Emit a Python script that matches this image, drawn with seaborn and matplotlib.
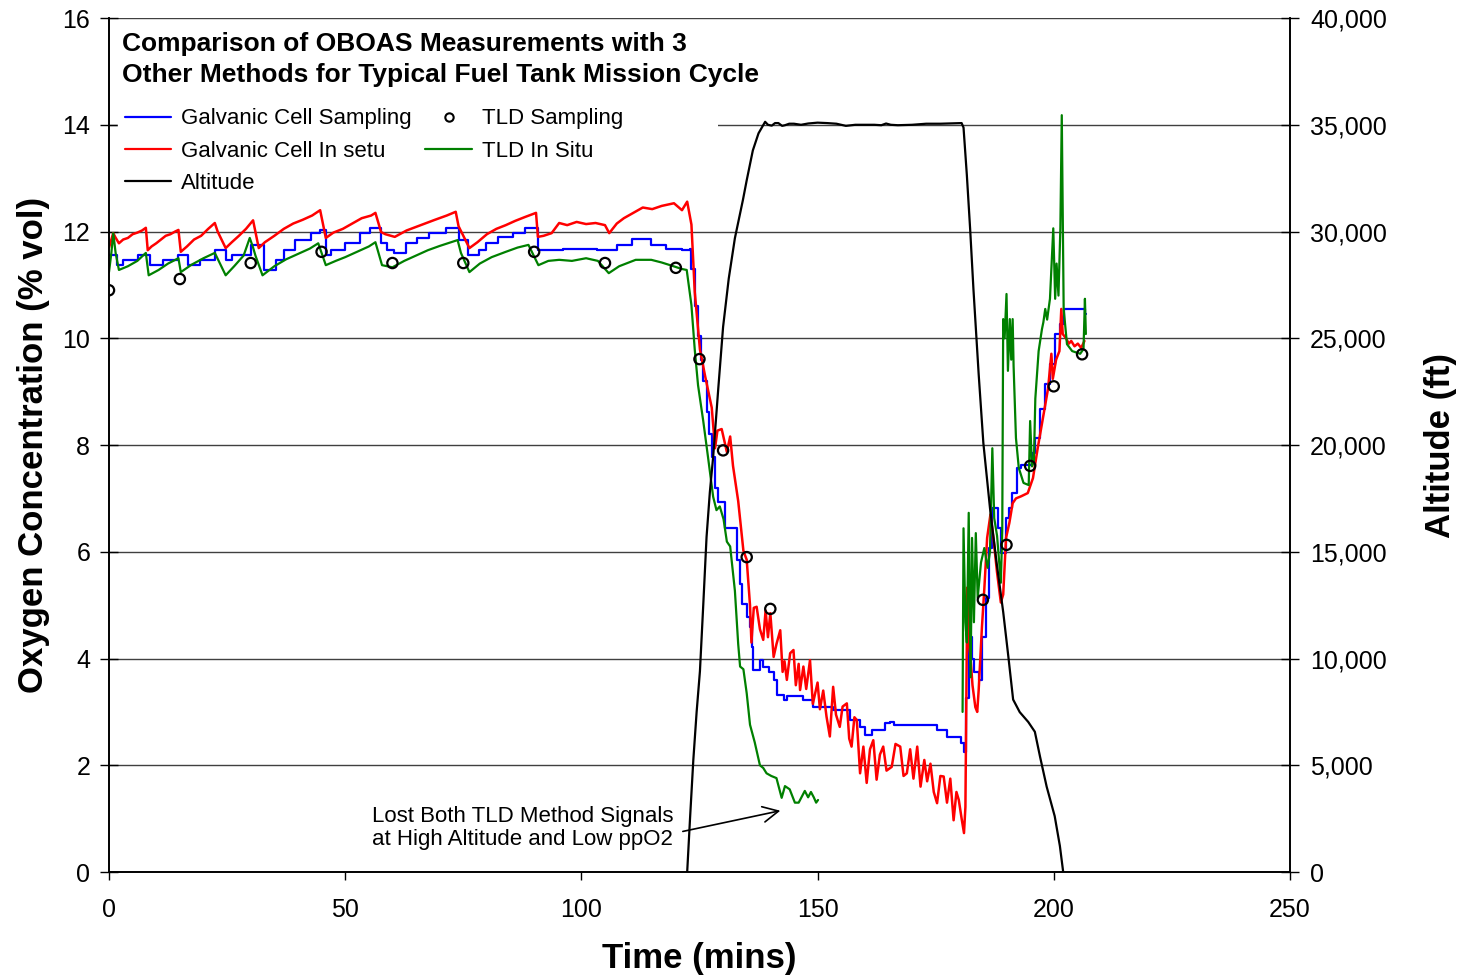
import numpy as np
import pandas as pd
import matplotlib
matplotlib.use("Agg")
import matplotlib.pyplot as plt
from matplotlib.lines import Line2D
from matplotlib.patches import Rectangle
from matplotlib.ticker import FuncFormatter, MultipleLocator
import seaborn as sns

# Galvanic cell in situ ("In setu") - red
gc_insitu_t = [0.0, 0.5, 0.9, 1.3, 2.1, 3.0, 4.0, 5.0, 6.0, 7.0, 7.8, 8.2, 9.0, 10.0, 11.0, 12.0, 13.0, 14.0,
               14.7, 15.2, 16.5, 18.0, 19.5, 21.0, 22.4, 23.0, 24.7, 26.0, 27.5, 29.0, 30.5, 31.7, 33.0, 35.0,
               37.0, 39.0, 41.0, 43.0, 44.7, 45.9, 47.5, 49.5, 51.5, 53.5, 55.5, 56.4, 57.6, 58.5, 60.5, 63.0,
               66.0, 69.0, 71.5, 73.4, 74.0, 76.3, 78.0, 80.0, 82.0, 84.0, 86.0, 88.0, 90.4, 90.8, 92.0, 93.7,
               95.3, 97.0, 99.0, 101.0, 103.0, 105.0, 105.9, 107.5, 109.0, 111.0, 113.0, 115.0, 117.0, 119.6,
               121.3, 122.4, 123.3, 124.0, 125.1, 126.2, 127.6, 128.3, 128.8, 129.7, 130.8, 131.5, 132.1, 133.2,
               134.3, 135.0, 135.7, 136.0, 136.5, 137.1, 137.8, 138.5, 139.0, 139.5, 140.0, 140.7, 141.3, 142.1,
               142.6, 143.0, 143.5, 144.2, 144.9, 145.4, 146.0, 146.3, 147.0, 147.6, 148.4, 149.0, 149.5, 150.0,
               150.5, 151.2, 151.9, 152.6, 153.3, 153.9, 154.7, 155.3, 156.2, 156.7, 157.2, 157.8, 158.3, 159.0,
               159.7, 160.4, 161.1, 161.8, 162.5, 163.2, 163.9, 164.6, 165.7, 166.5, 167.5, 168.2, 168.9, 169.6,
               170.3, 171.1, 171.8, 172.6, 173.2, 173.9, 174.6, 175.3, 176.0, 176.7, 177.4, 178.1, 178.8, 179.4,
               179.9, 180.5, 181.0, 181.3, 181.7, 182.0, 182.4, 182.8, 183.4, 183.8, 184.1, 184.8, 185.3, 185.9,
               186.6, 187.3, 188.0, 188.8, 189.3, 189.9, 190.6, 191.3, 192.0, 193.1, 194.5, 195.6, 196.6, 197.7,
               198.8, 199.5, 199.8, 200.5, 201.2, 201.6, 201.9, 202.6, 203.2, 203.7, 204.4, 205.1, 205.8, 206.5]
gc_insitu_o2 = [11.70, 11.85, 11.97, 11.90, 11.78, 11.85, 11.88, 11.95, 11.98, 12.02, 12.07, 11.65, 11.72, 11.78,
                11.85, 11.92, 11.95, 12.00, 12.03, 11.62, 11.72, 11.85, 11.92, 12.05, 12.16, 12.00, 11.69, 11.80,
                11.92, 12.05, 12.21, 11.69, 11.80, 11.92, 12.05, 12.15, 12.22, 12.30, 12.40, 11.88, 11.98, 12.05,
                12.15, 12.25, 12.30, 12.35, 11.99, 11.95, 11.90, 12.02, 12.12, 12.22, 12.30, 12.37, 12.10, 11.69,
                11.80, 11.95, 12.05, 12.12, 12.20, 12.27, 12.35, 11.90, 11.92, 11.97, 12.16, 12.12, 12.18, 12.14,
                12.16, 12.12, 11.97, 12.15, 12.25, 12.35, 12.45, 12.42, 12.48, 12.53, 12.40, 12.56, 12.13, 10.87,
                9.79, 9.29, 8.70, 7.94, 8.27, 8.30, 7.87, 8.16, 7.61, 6.95, 6.02, 5.85, 5.00, 4.30, 4.95, 4.97,
                4.55, 4.35, 4.90, 4.40, 4.85, 4.03, 4.27, 4.53, 3.75, 3.95, 3.60, 4.10, 4.16, 3.50, 3.90, 3.41,
                3.85, 3.43, 3.97, 3.15, 3.35, 3.55, 3.05, 3.40, 2.91, 2.54, 3.47, 2.95, 2.72, 3.10, 3.16, 2.50,
                2.35, 2.90, 2.85, 1.85, 2.35, 1.67, 2.30, 2.47, 1.73, 2.20, 2.35, 1.90, 1.97, 2.40, 2.35, 1.80,
                1.85, 2.30, 1.75, 2.35, 1.60, 2.10, 1.70, 2.03, 1.50, 1.29, 1.80, 1.79, 1.30, 1.75, 0.97, 1.50,
                1.35, 1.00, 0.73, 1.22, 5.33, 4.30, 4.00, 3.50, 3.09, 3.00, 3.40, 4.59, 5.30, 6.26, 6.70, 6.20,
                5.61, 5.05, 5.20, 6.26, 6.54, 6.91, 7.00, 7.04, 7.10, 7.38, 7.94, 8.50, 9.06, 9.71, 9.24, 9.60,
                9.76, 10.55, 10.08, 10.00, 9.90, 9.95, 9.85, 9.90, 9.82, 9.95]

# Galvanic cell sampling - blue (stepped readings)
gc_sampling_t = [0.0, 1.7, 3.0, 6.2, 8.6, 11.5, 14.7, 16.7, 19.2, 22.4, 24.8, 26.0, 30.1, 32.9, 35.4, 37.0, 39.4,
                 42.7, 44.7, 45.9, 47.0, 49.9, 53.2, 55.2, 57.6, 58.9, 60.4, 62.9, 65.3, 67.8, 71.4, 74.2, 75.9,
                 78.3, 79.9, 82.3, 85.6, 88.0, 90.9, 96.1, 103.4, 107.5, 110.7, 114.8, 118.0, 121.2, 123.0, 123.3,
                 124.0, 124.7, 125.3, 125.8, 126.5, 127.0, 127.6, 128.3, 129.0, 130.1, 130.4, 132.2, 132.9, 133.5,
                 134.0, 135.0, 135.7, 136.1, 136.4, 137.5, 137.8, 138.5, 139.7, 140.7, 141.4, 142.8, 143.5, 147.0,
                 149.1, 153.3, 156.8, 159.0, 160.1, 161.5, 164.3, 165.4, 166.1, 175.3, 177.4, 180.3, 181.0, 181.4,
                 182.1, 182.6, 183.2, 184.2, 184.9, 185.6, 186.3, 187.0, 188.1, 188.8, 189.8, 190.5, 191.2, 192.3,
                 193.0, 195.4, 196.1, 197.1, 198.2, 199.2, 200.3, 201.4, 202.1, 206.6, 206.8]
gc_sampling_o2 = [11.56, 11.37, 11.47, 11.56, 11.37, 11.47, 11.56, 11.37, 11.47, 11.65, 11.47, 11.56, 11.75, 11.28,
                  11.47, 11.65, 11.84, 11.97, 12.03, 11.56, 11.65, 11.78, 11.97, 12.06, 11.78, 11.65, 11.60, 11.78,
                  11.88, 11.97, 12.06, 11.84, 11.56, 11.65, 11.78, 11.90, 11.97, 12.06, 11.65, 11.68, 11.65, 11.75,
                  11.86, 11.75, 11.68, 11.65, 11.67, 11.30, 10.60, 10.04, 9.60, 9.20, 8.62, 8.20, 7.77, 7.20, 6.94,
                  6.94, 6.44, 6.44, 5.85, 5.40, 5.02, 4.77, 4.60, 4.22, 3.78, 3.78, 3.97, 3.85, 3.75, 3.60, 3.31,
                  3.22, 3.29, 3.22, 3.10, 3.03, 2.85, 2.72, 2.57, 2.66, 2.79, 2.82, 2.75, 2.66, 2.53, 2.41, 2.25,
                  3.27, 4.40, 4.00, 3.75, 3.60, 4.40, 5.14, 6.07, 6.82, 6.45, 5.98, 6.64, 6.82, 7.10, 7.57, 7.62,
                  7.85, 8.13, 8.68, 9.15, 9.52, 10.08, 10.27, 10.55, 10.45, 10.45]

# TLD in situ - green, lost between ~150 and ~181 min
tld_insitu_t1 = [0.0, 0.5, 0.9, 1.4, 2.1, 4.0, 6.0, 7.8, 8.4, 10.5, 12.5, 14.7, 15.2, 17.5, 20.0, 22.4, 24.7, 26.5,
                 28.5, 29.8, 30.5, 31.0, 32.5, 35.0, 37.5, 40.0, 42.5, 44.3, 45.9, 48.0, 50.0, 52.5, 55.0, 56.4,
                 57.8, 60.0, 62.5, 65.0, 67.5, 70.0, 73.8, 74.5, 76.3, 78.5, 81.0, 84.0, 86.5, 88.8, 90.9, 93.0,
                 95.3, 98.0, 101.0, 103.5, 105.8, 108.0, 111.5, 114.8, 117.0, 119.5, 121.2, 122.3, 123.3, 124.0,
                 124.7, 125.8, 126.8, 127.9, 128.6, 129.3, 130.1, 130.8, 131.5, 132.5, 133.2, 133.6, 134.3, 135.0,
                 135.7, 136.7, 137.8, 138.5, 139.2, 140.2, 141.3, 142.4, 143.1, 144.1, 145.2, 146.0, 147.3, 148.0,
                 148.6, 149.2, 149.7, 150.1]
tld_insitu_o2_1 = [11.24, 11.60, 11.97, 11.60, 11.28, 11.35, 11.45, 11.60, 11.18, 11.28, 11.40, 11.50, 11.24, 11.38,
                   11.50, 11.60, 11.18, 11.35, 11.55, 11.88, 11.70, 11.55, 11.18, 11.35, 11.48, 11.58, 11.68, 11.78,
                   11.37, 11.45, 11.52, 11.62, 11.72, 11.80, 11.37, 11.33, 11.45, 11.55, 11.65, 11.73, 11.84, 11.60,
                   11.24, 11.40, 11.52, 11.62, 11.70, 11.75, 11.37, 11.45, 11.47, 11.45, 11.50, 11.45, 11.22, 11.35,
                   11.47, 11.47, 11.42, 11.35, 11.30, 11.28, 10.62, 9.79, 9.12, 8.45, 7.78, 7.03, 6.78, 6.85, 6.61,
                   6.19, 6.10, 5.27, 4.27, 3.85, 3.80, 3.35, 2.76, 2.43, 2.00, 1.95, 1.85, 1.80, 1.76, 1.39, 1.61,
                   1.55, 1.30, 1.30, 1.52, 1.40, 1.50, 1.40, 1.30, 1.35]
tld_insitu_t2 = [180.7, 180.9, 181.3, 181.6, 182.0, 182.4, 182.7, 183.1, 183.5, 183.9, 184.6, 185.3, 186.0, 186.5,
                 187.0, 187.4, 188.0, 188.8, 189.1, 189.3, 189.6, 190.0, 190.3, 190.7, 191.0, 191.3, 191.5, 192.0,
                 192.6, 193.6, 194.7, 195.0, 195.4, 195.8, 196.1, 196.8, 197.5, 197.8, 198.2, 198.6, 199.2, 199.9,
                 200.3, 200.6, 201.0, 201.4, 201.7, 202.1, 202.8, 203.9, 205.6, 206.3, 206.6, 206.8]
tld_insitu_o2_2 = [3.00, 6.44, 4.68, 4.30, 6.73, 3.65, 6.26, 4.68, 6.35, 5.14, 5.80, 6.07, 5.70, 6.00, 7.94, 6.63,
                   6.30, 5.42, 6.40, 10.36, 10.00, 10.83, 9.39, 10.36, 9.60, 10.36, 9.48, 8.13, 7.57, 7.29, 7.25,
                   8.45, 7.60, 7.70, 8.87, 9.76, 10.17, 10.30, 10.55, 10.35, 10.74, 12.06, 10.74, 11.40, 10.80,
                   12.06, 14.18, 10.55, 9.89, 9.76, 9.71, 9.80, 10.74, 10.08]

# TLD sampling - open circles
tld_sampling_t = [0, 15, 30, 45, 60, 75, 90, 105, 120, 125, 130, 135, 140, 185, 190, 195, 200, 206]
tld_sampling_o2 = [10.90, 11.11, 11.41, 11.62, 11.41, 11.41, 11.62, 11.41, 11.32, 9.61, 7.90, 5.90, 4.93,
                   5.10, 6.13, 7.61, 9.10, 9.70]

# altitude (ft), right axis
alt_t = [122.4, 123.0, 123.7, 124.4, 125.1, 125.8, 126.5, 127.2, 127.9, 129.0, 130.0, 131.2, 132.5, 134.2, 135.0,
         136.3, 137.5, 138.9, 139.5, 140.3, 141.0, 141.7, 142.5, 143.1, 144.0, 145.0, 146.5, 148.0, 150.0, 152.0,
         154.0, 156.0, 158.0, 160.0, 162.0, 163.5, 164.5, 165.5, 167.0, 170.0, 173.0, 176.0, 180.5, 180.9, 181.6,
         182.3, 183.0, 184.1, 185.1, 186.5, 187.9, 189.3, 190.4, 191.4, 192.8, 194.6, 196.0, 197.1, 198.5, 200.2,
         201.3, 202.0]
altitude = [0, 2500, 5250, 7500, 9410, 12500, 15690, 17800, 19450, 22700, 25530, 27800, 29690, 31480, 32400,
            33800, 34600, 35140, 35000, 34960, 35080, 35080, 34950, 34980, 35050, 35050, 35000, 35060, 35100, 35080,
            35050, 34950, 35000, 35000, 35000, 34980, 35060, 35000, 34980, 35000, 35050, 35050, 35080, 34870, 32660,
            30120, 27300, 23340, 20090, 17050, 14490, 12180, 10070, 8080, 7490, 7030, 6570, 5400, 4000, 2620,
            1220, 0]

sns.set_theme(style="white")
plt.rcParams["font.family"] = ["Liberation Sans", "DejaVu Sans"]
plt.rcParams["text.color"] = "black"
plt.rcParams["axes.labelcolor"] = "black"

fig = plt.figure(figsize=(14.67, 9.75), dpi=100)
ax = fig.add_axes([0.0743, 0.1056, 0.805, 0.8759])
ax2 = ax.twinx()

lw = 1.6
sns.lineplot(x=gc_sampling_t, y=gc_sampling_o2, ax=ax, color="#0000ff", lw=lw, estimator=None,
             sort=False, drawstyle="steps-post")
sns.lineplot(x=gc_insitu_t, y=gc_insitu_o2, ax=ax, color="#ff0000", lw=1.8, estimator=None, sort=False)
sns.lineplot(x=tld_insitu_t1, y=tld_insitu_o2_1, ax=ax, color="#008000", lw=lw, estimator=None, sort=False)
sns.lineplot(x=tld_insitu_t2, y=tld_insitu_o2_2, ax=ax, color="#008000", lw=lw, estimator=None, sort=False)
sns.scatterplot(x=tld_sampling_t, y=tld_sampling_o2, ax=ax, marker="o", s=55, facecolor="none",
                edgecolor="black", linewidth=1.6, zorder=5)
sns.lineplot(x=alt_t, y=altitude, ax=ax2, color="black", lw=lw, estimator=None, sort=False)

ax.set_xlim(0, 250)
ax.set_ylim(0, 16)
ax2.set_ylim(0, 40000)
ax.xaxis.set_major_locator(MultipleLocator(50))
ax.yaxis.set_major_locator(MultipleLocator(2))
ax2.yaxis.set_major_locator(MultipleLocator(5000))
ax2.yaxis.set_major_formatter(FuncFormatter(lambda v, p: f"{int(v):,}"))

ax.yaxis.grid(True, color="#404040", lw=1.0)
ax.xaxis.grid(False)
ax.set_axisbelow(True)

# white legend area (Excel style) hides the 14 gridline behind the legend block
ax.add_patch(Rectangle((0.008, 0.795), 0.508, 0.11, transform=ax.transAxes, facecolor="white",
                       edgecolor="none", zorder=1.5))

for a in (ax, ax2):
    a.spines["top"].set_visible(False)
    for s in ("left", "right", "bottom"):
        a.spines[s].set_color("black")
        a.spines[s].set_linewidth(1.2)

ax.tick_params(axis="x", direction="out", length=6, width=1.0, pad=13, labelsize=18, colors="black", bottom=True)
ax.tick_params(axis="y", direction="inout", length=13, width=1.0, pad=7, labelsize=18, colors="black", left=True)
ax2.tick_params(axis="y", direction="inout", length=13, width=1.0, pad=8, labelsize=18, colors="black", right=True)

ax.set_xlabel("Time (mins)", fontsize=25, fontweight="bold", labelpad=14)
ax.set_ylabel("Oxygen Concentration (% vol)", fontsize=25, fontweight="bold", labelpad=9)
ax2.set_ylabel("Altitude (ft)", fontsize=25, fontweight="bold", labelpad=27)

ax.text(0.011, 0.984, "Comparison of OBOAS Measurements with 3\nOther Methods for Typical Fuel Tank Mission Cycle",
        transform=ax.transAxes, ha="left", va="top", fontsize=19, fontweight="bold", linespacing=1.4)

ax.text(55.7, 0.83, "Lost Both TLD Method Signals\nat High Altitude and Low ppO2", ha="left", va="center",
        fontsize=16, linespacing=1.15)
ax.annotate("", xy=(142.7, 1.16), xytext=(120.9, 0.75),
            arrowprops=dict(arrowstyle="->", color="black", lw=1.2, mutation_scale=28))

handles = [
    Line2D([], [], color="#0000ff", lw=lw),
    Line2D([], [], color="#ff0000", lw=lw),
    Line2D([], [], color="black", lw=lw),
    Line2D([], [], color="black", lw=0, marker="o", markerfacecolor="none", markersize=6, markeredgewidth=1.5),
    Line2D([], [], color="#008000", lw=lw),
]
labels = ["Galvanic Cell Sampling", "Galvanic Cell In setu", "Altitude", "TLD Sampling", "TLD In Situ"]
leg = ax2.legend(handles, labels, loc="upper left", bbox_to_anchor=(0.0076, 0.902), ncol=2, fontsize=16,
                 frameon=True, framealpha=1, facecolor="white", edgecolor="white", fancybox=False,
                 borderpad=0.3, labelspacing=0.5, handlelength=2.1, handletextpad=0.45, columnspacing=0.6,
                 borderaxespad=0)
leg.set_zorder(10)

fig.savefig("out.png", dpi=100)
